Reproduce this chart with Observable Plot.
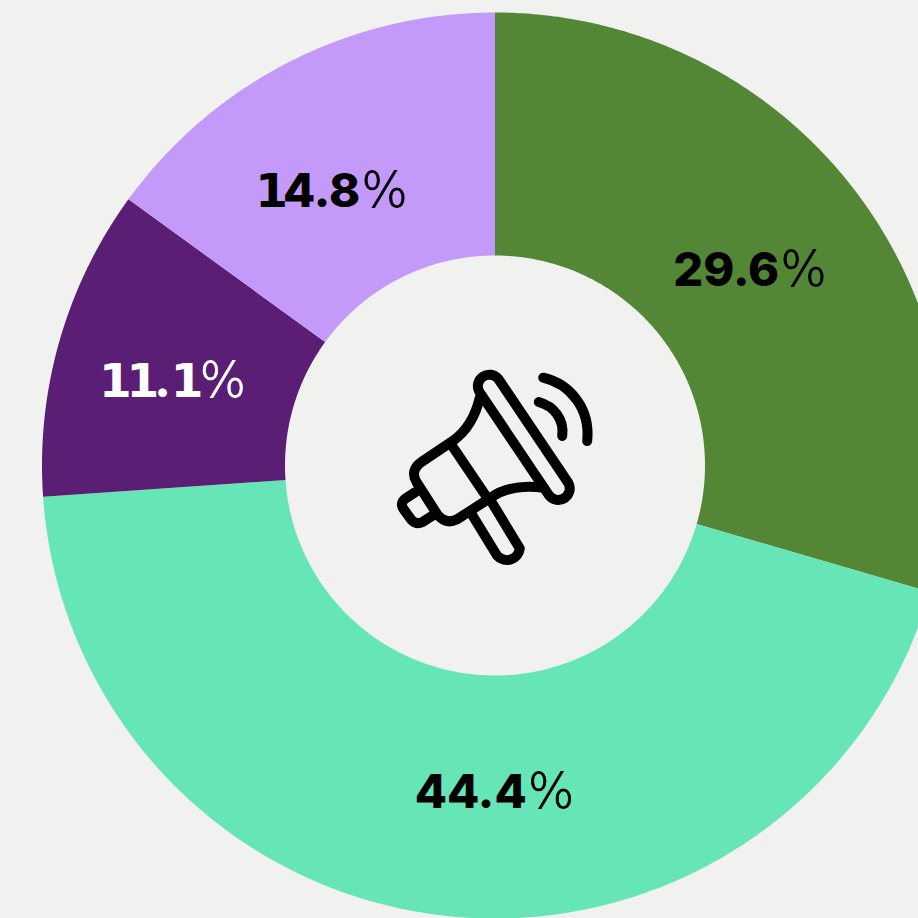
<!DOCTYPE html>
<html>
<head>
<meta charset="utf-8">
<script src="https://cdn.jsdelivr.net/npm/d3@7"></script>
<script src="https://cdn.jsdelivr.net/npm/@observablehq/plot@0.6"></script>
<style>
html,body{margin:0;padding:0;background:#f1f1ef;overflow:hidden}
svg{display:block}
</style>
</head>
<body>
<div id="chart"></div>
<script>
const labelTexts = ["29.6", "44.4", "11.1", "14.8"];
const sliceShares = [29.5, 44.4, 11.1, 15.0];
const sliceColors = ["#538735", "#66e5b6", "#5a1e74", "#c39afa"];
const labelColors = ["#000000", "#000000", "#ffffff", "#000000"];

const SIZE = 918, CX = 494.5, CY = 465, R_OUT = 453, R_IN = 210;
const labelAnchors = [[749.5, 270], [494, 792], [172, 381], [331, 191]];

const total = d3.sum(sliceShares);
const angle = d3.scaleLinear().domain([0, total]).range([0, 2 * Math.PI]);
const polar = (r, a) => [CX + r * Math.sin(a), CY - r * Math.cos(a)];

let running = 0;
const slices = sliceShares.map((share, i) => {
  const a0 = angle(running), a1 = angle(running + share);
  running += share;
  const steps = d3.range(0, 241).map(k => a0 + (a1 - a0) * k / 240);
  return {
    type: "Feature",
    properties: {share, color: sliceColors[i]},
    geometry: {
      type: "Polygon",
      coordinates: [[
        ...steps.map(a => polar(R_OUT, a)),
        ...steps.slice().reverse().map(a => polar(R_IN, a)),
        polar(R_OUT, a0)
      ]]
    }
  };
});

const labels = labelTexts.map((text, i) => ({
  text, color: labelColors[i], x: labelAnchors[i][0], y: labelAnchors[i][1]
}));

function megaphone() {
  const g = d3.create("svg:g")
    .attr("transform", "translate(0.5,1)")
    .attr("fill", "none").attr("stroke", "#000")
    .attr("stroke-width", 10).attr("stroke-linecap", "round").attr("stroke-linejoin", "round");
  const paths = [
    "M497.8,377.9 L567.8,481.9 A11.5,11.5 0 0 1 548.8,494.7 L478.8,390.7 A11.5,11.5 0 0 1 497.8,377.9 Z",
    "M479.3,396.7 C475,415 466,430 453,439.5 L421.7,460.5 Q409,469 416,481 L436.7,513.3 Q445,524 456.7,518.3 L490,496.7 C505,486 522,484 543.3,486.7",
    "M451.7,445 L486.7,496.7",
    "M471.7,514 L496.5,554.5 A13,13 0 0 0 519.3,547.5 L491.7,502",
    "M415,491 L405,497.5 Q399,502 403,508 L411,519 Q416,524 422,521 L433,514",
    "M542.7,376.7 C570,383 590,408 586.7,440",
    "M538.3,401 C553,405 564,418 561.7,435"
  ];
  paths.forEach(d => g.append("path").attr("d", d));
  return g.node();
}

function styleLabel(index, scales, values, dimensions, context, next) {
  const node = next(index, scales, values, dimensions, context);
  d3.select(node).selectAll("text").each(function () {
    const t = d3.select(this);
    const s = t.text();
    const color = t.attr("fill");
    t.text(null);
    for (const ch of s.slice(0, -1)) {
      const span = t.append("tspan").text(ch);
      if (ch === "1") {
        span.attr("font-family", "DejaVu Sans").attr("font-weight", 700)
            .attr("letter-spacing", "-5px");
      }
    }
    t.append("tspan")
      .attr("font-family", "DejaVu Sans").attr("font-weight", 200)
      .attr("font-size", 49)
      .attr("stroke", color).attr("stroke-width", 0.8)
      .attr("dx", 1).text("%");
  });
  return node;
}

const plot = Plot.plot({
  width: SIZE, height: SIZE,
  margin: 0,
  style: {background: "#f1f1ef"},
  projection: d3.geoIdentity(),
  marks: [
    Plot.geo(slices, {fill: d => d.properties.color, stroke: "none"}),
    () => megaphone(),
    Plot.text(labels, {
      x: "x", y: "y",
      text: d => d.text + "%",
      fill: "color",
      fontFamily: "Inter",
      fontWeight: 800,
      fontSize: 47,
      render: styleLabel
    })
  ]
});
document.getElementById("chart").append(plot);
</script>
</body>
</html>
